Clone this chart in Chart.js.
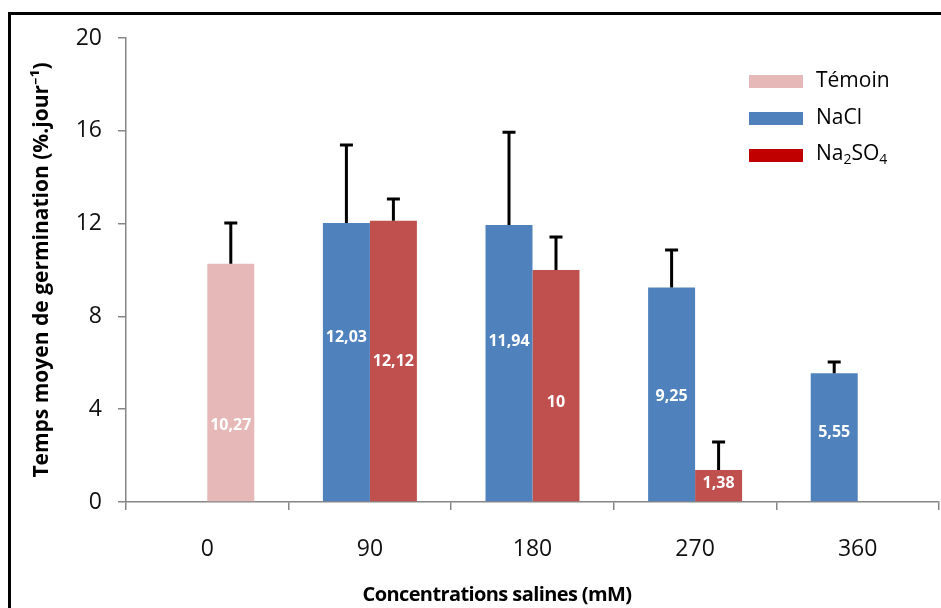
<!DOCTYPE html>
<html>
<head>
<meta charset="utf-8">
<script src="https://cdn.jsdelivr.net/npm/chart.js@4.4.1/dist/chart.umd.min.js"></script>
<style>
html, body { margin: 0; padding: 0; background: #fff; }
#wrap { position: relative; width: 941px; height: 608px; overflow: hidden; font-family: "Open Sans", "Noto Sans", sans-serif; }
#frame { position: absolute; left: 8px; top: 12px; width: 980px; height: 640px; border-left: 3px solid #000; border-top: 3px solid #000; }
#legend { position: absolute; left: 749px; top: 60px; }
.item { display: flex; align-items: center; height: 37px; font-size: 21px; color: #000; }
.box { width: 54px; height: 13px; margin-right: 13px; margin-top: 6px; }
.item sub { font-size: 14px; vertical-align: -4px; }
#xtitle { position: absolute; left: 0; width: 994px; top: 580px; text-align: center; font-weight: bold; font-size: 20px; letter-spacing: -0.6px; color: #000; }
canvas { position: absolute; left: 0; top: 0; }
</style>
</head>
<body>
<div id="wrap">
  <canvas id="chart" width="941" height="608"></canvas>
  <div id="frame"></div>
  <div id="legend"></div>
  <div id="xtitle">Concentrations salines (mM)</div>
</div>
<script>
// DATA
const categories = ['0', '90', '180', '270', '360'];
const seriesNames = ['Témoin', 'NaCl', 'Na2SO4'];
const temoin = [10.27, null, null, null, null];
const nacl = [null, 12.03, 11.94, 9.25, 5.55];
const na2so4 = [null, 12.12, 10, 1.38, null];
// upper error bars
const temoinErr = [1.76, null, null, null, null];
const naclErr = [null, 3.36, 4.0, 1.61, 0.48];
const na2so4Err = [null, 0.94, 1.42, 1.21, null];
const yTicks = [0, 4, 8, 12, 16, 20];

// where the value label sits along each bar (fraction of the bar height)
const temoinLabelAt = [0.32, null, null, null, null];
const naclLabelAt = [null, 0.59, 0.58, 0.49, 0.54];
const na2so4LabelAt = [null, 0.50, 0.43, 0.59, null];

const barColors = ['#E6B9B8', '#4F81BD', '#C0504D'];
const legendColors = ['#E6B9B8', '#4F81BD', '#C00000'];
const FONT = '"Open Sans", "Noto Sans", sans-serif';

// legend (html so the subscripts work)
const legend = document.getElementById('legend');
seriesNames.forEach((name, i) => {
    const row = document.createElement('div');
    row.className = 'item';
    row.innerHTML = `<span class="box" style="background:${legendColors[i]}"></span><span>${name.replace(/(\d)/g, '<sub>$1</sub>')}</span>`;
    legend.append(row);
});

// ERROR BARS
const errorBars = {
    id: 'errorBars',
    afterDatasetsDraw(chart) {
        const ctx = chart.ctx;
        const y = chart.scales.y;
        ctx.save();
        ctx.strokeStyle = '#000';
        ctx.lineWidth = 3;
        chart.data.datasets.forEach((ds, i) => {
            const meta = chart.getDatasetMeta(i);
            meta.data.forEach((bar, j) => {
                const v = ds.data[j], e = ds.errors[j];
                if (v == null || e == null) return;
                const top = y.getPixelForValue(v + e);
                ctx.beginPath();
                ctx.moveTo(bar.x, bar.y);
                ctx.lineTo(bar.x, top);
                ctx.moveTo(bar.x - 6.5, top);
                ctx.lineTo(bar.x + 6.5, top);
                ctx.stroke();
            });
        });
        ctx.restore();
    }
};

// VALUE LABELS INSIDE BARS
const valueLabels = {
    id: 'valueLabels',
    afterDatasetsDraw(chart) {
        const ctx = chart.ctx;
        const y = chart.scales.y;
        ctx.save();
        ctx.fillStyle = '#fff';
        ctx.font = 'bold 16px ' + FONT;
        ctx.textAlign = 'center';
        ctx.textBaseline = 'middle';
        chart.data.datasets.forEach((ds, i) => {
            const meta = chart.getDatasetMeta(i);
            meta.data.forEach((bar, j) => {
                const v = ds.data[j];
                if (v == null) return;
                ctx.fillText(String(v).replace('.', ','), bar.x, y.getPixelForValue(v * ds.labelAt[j]));
            });
        });
        ctx.restore();
    }
};

const ctx = document.getElementById('chart');
const myChart = new Chart(ctx, {
    type: 'bar',
    data: {
        labels: categories,
        datasets: [{
            label: seriesNames[1],
            data: nacl,
            errors: naclErr,
            labelAt: naclLabelAt,
            backgroundColor: barColors[1],
            stack: 'a'
        }, {
            label: seriesNames[0],
            data: temoin,
            errors: temoinErr,
            labelAt: temoinLabelAt,
            backgroundColor: barColors[0],
            stack: 'b'
        }, {
            label: seriesNames[2],
            data: na2so4,
            errors: na2so4Err,
            labelAt: na2so4LabelAt,
            backgroundColor: barColors[2],
            stack: 'b'
        }]
    },
    options: {
        responsive: false,
        animation: false,
        categoryPercentage: 0.578,
        barPercentage: 1,
        layout: { padding: { left: 12, top: 38, right: 2, bottom: 0 } },
        plugins: {
            legend: { display: false },
            tooltip: { enabled: false }
        },
        scales: {
            x: {
                stacked: true,
                grid: { drawOnChartArea: false, color: '#868686', tickLength: 8, lineWidth: 1.5 },
                border: { color: '#868686', width: 1.5 },
                ticks: { color: '#111', font: { family: FONT, size: 23 }, padding: 26 },
                afterFit(scale) { scale.height = 106; }
            },
            y: {
                stacked: true,
                min: 0,
                max: 20,
                afterBuildTicks(scale) { scale.ticks = yTicks.map(v => ({ value: v })); },
                grid: { drawOnChartArea: false, color: '#868686', tickLength: 8, lineWidth: 1.5 },
                border: { color: '#868686', width: 1.5 },
                ticks: { color: '#111', font: { family: FONT, size: 23 }, padding: 16 },
                title: {
                    display: true,
                    text: 'Temps moyen de germination (%.jour⁻¹)',
                    color: '#000',
                    font: { family: FONT, size: 21, weight: 'bold' },
                    padding: { top: 17, bottom: 0 }
                },
                afterFit(scale) { scale.width = 114; }
            }
        }
    },
    plugins: [errorBars, valueLabels]
});
</script>
</body>
</html>
